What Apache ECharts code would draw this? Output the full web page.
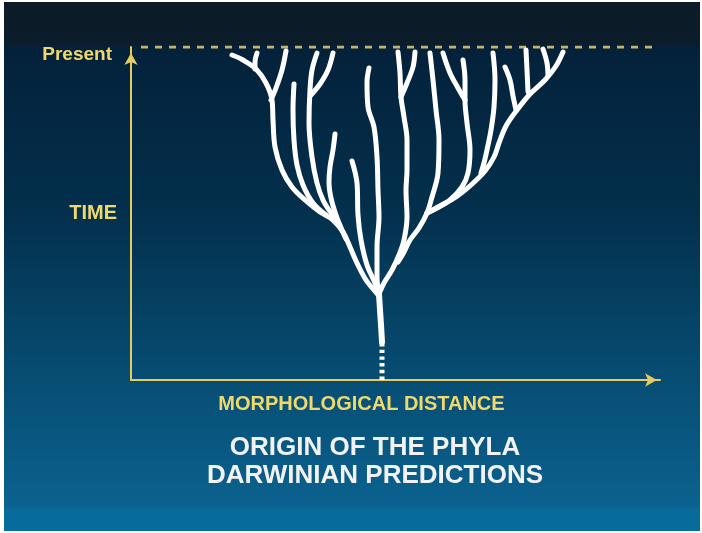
<!DOCTYPE html>
<html>
<head>
<meta charset="utf-8">
<script src="https://cdn.jsdelivr.net/npm/echarts@6/dist/echarts.min.js"></script>
<style>
  html, body { margin: 0; padding: 0; background: #fff; }
  #chart { width: 702px; height: 533px; }
</style>
</head>
<body>
<div id="chart"></div>
<script>
// axis ranges (morphological distance, time)
const distRange = [0, 529];
const timeRange = [0, 333];
const timeTicks = [166.5, 333];
const timeLabels = ['TIME', 'Present'];
const presentLine = [[10, 333], [525, 333]];

// left side of the tree
const branchA = [[101,325],[112,320],[125,311],[135,297],[141,280],[142,260],[144,233],[151,210],[161,193],[174,180],[189,168],[202,160],[212,148],[219,133],[226,117],[235,100],[243,90],[248,84]];
const twigA1 = [[126,327],[124,318],[124,311]];
const twigA2 = [[155,329],[151,310],[145,292],[140,280]];
const branchB = [[163,296],[162,270],[163,240],[166,215],[172,195],[182,177],[195,165]];
const branchC = [[186,327],[181,310],[179,290],[178,257],[181,223],[186,197],[192,180],[200,167],[207,157]];
const twigC = [[202,327],[197,310],[189,296],[180,285]];
const branchD = [[204,246],[202,230],[199,213],[198,198],[200,182],[205,165],[211,150],[215,141]];
const branchE = [[221,219],[226,197],[227,165],[230,140],[236,115],[244,97],[248,86]];
const branchF = [[238,312],[236,298],[237,273],[243,253],[246,223],[247,190],[248,163],[246,133],[246,103],[248,86]];

// right side of the tree
const branchG = [[267,328],[269,307],[270,283],[273,263],[276,240],[276,210],[275,190],[276,163],[273,140],[268,125],[261,110],[253,97],[248,86]];
const twigG = [[284,328],[282,313],[276,297],[270,283]];
const branchH = [[299,327],[302,300],[305,270],[308,240],[307,207],[301,183],[296,167],[288,152],[279,140],[273,128],[267,118]];
const branchI = [[332,320],[334,300],[334,280],[336,257],[339,230],[337,207],[331,193],[319,180],[306,172],[296,167]];
const twigI = [[312,327],[319,307],[327,292],[334,280]];
const branchJ = [[362,327],[364,300],[363,273],[360,250],[356,230],[353,217],[350,207]];
const branchK = [[432,328],[425,314],[414,300],[399,286],[386,270],[375,254],[368,237],[363,223],[354,209],[340,195],[325,183],[309,174],[296,167]];
const twigK1 = [[374,313],[379,300],[382,284],[385,270]];
const twigK2 = [[395,330],[396,310],[397,288]];
const twigK3 = [[412,331],[416,317],[417,304]];

// common stem
const trunk = [[248,86],[249,70],[250,55],[251,38]];
const trunkUnknown = [[251,37],[251,0]];

const branches = [branchA, twigA1, twigA2, branchB, branchC, twigC, branchD, branchE, branchF,
  branchG, twigG, branchH, branchI, twigI, branchJ, branchK, twigK1, twigK2, twigK3];

const chart = echarts.init(document.getElementById('chart'));

const yellow = '#e6cc5c';
const textYellow = '#efd86c';

const series = branches.map(b => ({
  type: 'line',
  data: b,
  smooth: 0.35,
  showSymbol: false,
  silent: true,
  z: 5,
  lineStyle: { color: '#ffffff', width: 5, cap: 'round', join: 'round' }
}));

series.push({
  type: 'line', data: trunk, smooth: 0.3, showSymbol: false, silent: true, z: 5,
  lineStyle: { color: '#ffffff', width: 6, cap: 'round', join: 'round' }
});
series.push({
  type: 'line', data: trunkUnknown, showSymbol: false, silent: true, z: 5,
  lineStyle: { color: '#ffffff', width: 5, type: [3.4, 3.3], cap: 'butt' }
});
series.push({
  type: 'line', data: presentLine, showSymbol: false, silent: true, z: 4,
  lineStyle: { color: '#c9b26a', width: 3, type: [7, 7], cap: 'butt' }
});

chart.setOption({
  animation: false,
  backgroundColor: {
    type: 'linear', x: 0, y: 0, x2: 0, y2: 1,
    colorStops: [
      { offset: 0, color: '#0c1b27' },
      { offset: 0.08, color: '#0b1c2a' },
      { offset: 0.09, color: '#04213a' },
      { offset: 0.4, color: '#03304d' },
      { offset: 0.7, color: '#074c72' },
      { offset: 0.95, color: '#0b628f' },
      { offset: 0.955, color: '#086b9a' },
      { offset: 1, color: '#066d9d' }
    ]
  },
  title: {
    text: 'ORIGIN OF THE PHYLA\nDARWINIAN PREDICTIONS',
    left: 375,
    top: 434,
    padding: 0,
    textAlign: 'center',
    textStyle: {
      color: '#f2f2f2',
      fontFamily: 'Liberation Sans',
      fontWeight: 'bold',
      fontSize: 26,
      lineHeight: 28
    }
  },
  grid: { left: 131, right: 42, top: 47, bottom: 153, containLabel: false, outerBoundsMode: 'none' },
  xAxis: {
    type: 'value',
    min: distRange[0],
    max: distRange[1],
    name: 'MORPHOLOGICAL DISTANCE',
    nameLocation: 'middle',
    nameGap: 14,
    nameTextStyle: {
      color: textYellow,
      fontFamily: 'Liberation Sans',
      fontWeight: 'bold',
      fontSize: 20,
      padding: [0, 68, 0, 0]
    },
    axisLine: {
      show: true,
      symbol: ['none', 'arrow'],
      symbolSize: [10, 12],
      symbolOffset: [0, -3],
      lineStyle: { color: yellow, width: 2 }
    },
    axisTick: { show: false },
    axisLabel: { show: false },
    splitLine: { show: false }
  },
  yAxis: {
    type: 'value',
    min: timeRange[0],
    max: timeRange[1],
    interval: 166.5,
    axisLine: {
      show: true,
      symbol: ['none', 'arrow'],
      symbolSize: [10, 12],
      symbolOffset: [0, -6],
      lineStyle: { color: yellow, width: 2 }
    },
    axisTick: { show: false },
    splitLine: { show: false },
    axisLabel: {
      margin: 14,
      formatter: v => {
        const i = timeTicks.indexOf(v);
        if (i < 0) return '';
        return (i === 1 ? '{p|' : '{t|') + timeLabels[i] + '}';
      },
      rich: {
        t: { color: textYellow, fontFamily: 'Liberation Sans', fontWeight: 'bold', fontSize: 20 },
        p: { color: textYellow, fontFamily: 'Liberation Sans', fontWeight: 'bold', fontSize: 19, padding: [15, 5, 0, 0] }
      }
    }
  },
  graphic: [
    { type: 'rect', left: 0, top: 0, shape: { width: 4, height: 533 }, style: { fill: '#fff' }, silent: true },
    { type: 'rect', left: 0, top: 0, shape: { width: 702, height: 2 }, style: { fill: '#fff' }, silent: true },
    { type: 'rect', right: 0, top: 0, shape: { width: 2, height: 533 }, style: { fill: '#fff' }, silent: true },
    { type: 'rect', left: 0, bottom: 0, shape: { width: 702, height: 2 }, style: { fill: '#fff' }, silent: true }
  ],
  series: series
});
</script>
</body>
</html>
